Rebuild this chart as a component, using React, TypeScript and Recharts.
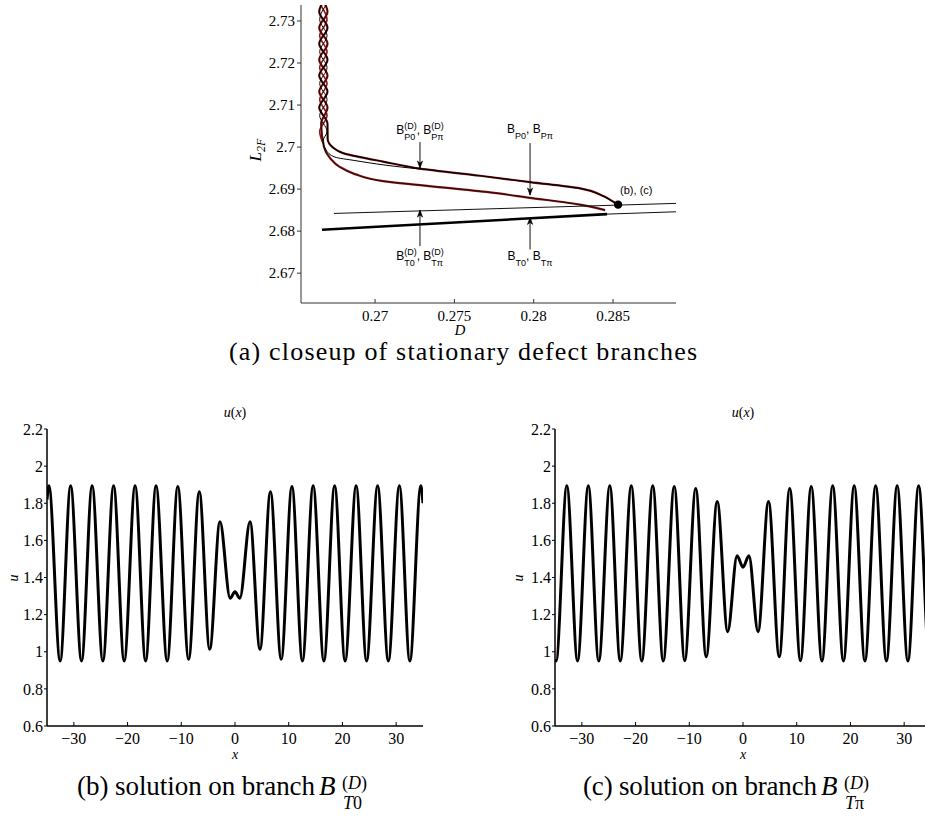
import React from 'react';
import { LineChart, Line, XAxis, YAxis, ReferenceLine, ReferenceDot } from 'recharts';

// ---------------- Panel (a): closeup of stationary defect branches ----------------
const dTicks = [0.27, 0.275, 0.28, 0.285];
const lTicks = [2.67, 2.68, 2.69, 2.7, 2.71, 2.72, 2.73];
const dDomain = [0.26533, 0.28897];
const lDomain = [2.6629, 2.7338];

// braided (snaking) part near D ~ 0.2667, four strands
const braidAB_L = [2.7360, 2.7322, 2.7284, 2.7246, 2.7208, 2.7170, 2.7132, 2.7094, 2.7056];
const strandA_D = [0.26700, 0.26648, 0.26700, 0.26648, 0.26700, 0.26648, 0.26700, 0.26648, 0.26700];
const strandB_D = [0.26648, 0.26700, 0.26648, 0.26700, 0.26648, 0.26700, 0.26648, 0.26700, 0.26660];
const braidCD_L = [2.7341, 2.7303, 2.7265, 2.7227, 2.7189, 2.7151, 2.7113, 2.7075, 2.7037];
const strandC_D = [0.26697, 0.26651, 0.26697, 0.26651, 0.26697, 0.26651, 0.26697, 0.26651, 0.26697];
const strandD_D = [0.26651, 0.26697, 0.26651, 0.26697, 0.26651, 0.26697, 0.26651, 0.26697, 0.26651];
const strandD_endD = [0.26668];
const strandD_endL = [2.7012];

// branches leaving the knee
const upperBranchD = [0.26701, 0.26735, 0.26798, 0.26905, 0.27050, 0.27283, 0.27662, 0.27977, 0.28292, 0.28439, 0.28502, 0.28532];
const upperBranchL = [2.70190, 2.69988, 2.69857, 2.69762, 2.69655, 2.69488, 2.69317, 2.69167, 2.69017, 2.68833, 2.68698, 2.68631];
const lowerBranchD = [0.26678, 0.26716, 0.26779, 0.26873, 0.27050, 0.27283, 0.27725, 0.27977, 0.28292, 0.28450];
const lowerBranchL = [2.70000, 2.69738, 2.69524, 2.69357, 2.69190, 2.69095, 2.68921, 2.68793, 2.68631, 2.68500];
const thinKneeD = [0.26672, 0.26691, 0.26747, 0.26873, 0.27063, 0.27283];
const thinKneeL = [2.70143, 2.69929, 2.69762, 2.69679, 2.69571, 2.69476];

// straight branches
const upperLineD = [0.26741, 0.28897];
const upperLineL = [2.68421, 2.68660];
const thickLineD = [0.26665, 0.28462];
const thickLineL = [2.68031, 2.68405];
const thinTailD = [0.28462, 0.28897];
const thinTailL = [2.68405, 2.68460];

const markerD = 0.28532;
const markerL = 2.6863;

// annotation arrows
const arrowD = [0.27283, 0.27977, 0.27283, 0.27977];
const arrowTailL = [2.70119, 2.70095, 2.67643, 2.67564];
const arrowTipL = [2.69500, 2.68857, 2.68500, 2.68326];
const arrowLabels = [
  [{ base: 'B', sub: 'P0', sup: '(D)' }, { base: 'B', sub: 'Pπ', sup: '(D)' }],
  [{ base: 'B', sub: 'P0' }, { base: 'B', sub: 'Pπ' }],
  [{ base: 'B', sub: 'T0', sup: '(D)' }, { base: 'B', sub: 'Tπ', sup: '(D)' }],
  [{ base: 'B', sub: 'T0' }, { base: 'B', sub: 'Tπ' }],
];
const arrowLabelDy = [-8, -10, 14, 11];

// ---------------- Panels (b), (c): u(x) ----------------
const xTicks = [-30, -20, -10, 0, 10, 20, 30];
const uTicks = [0.6, 0.8, 1, 1.2, 1.4, 1.6, 1.8, 2, 2.2];

const xB = [-35, -34.65, -32.55, -30.6, -28.57, -26.6, -24.6, -22.6, -20.63, -18.6, -16.64, -14.7, -12.62, -10.65, -8.63, -6.65, -4.71, -2.8, -0.9, 0, 0.9, 2.8, 4.65, 6.6, 8.6, 10.6, 12.55, 14.55, 16.55, 18.55, 20.5, 22.55, 24.5, 26.55, 28.55, 30.6, 32.55, 34.6, 35];
const uB = [1.82, 1.894, 0.95, 1.894, 0.95, 1.894, 0.95, 1.894, 0.95, 1.894, 0.95, 1.894, 0.95, 1.89, 0.959, 1.862, 1.013, 1.70, 1.288, 1.323, 1.288, 1.70, 1.013, 1.862, 0.959, 1.89, 0.95, 1.894, 0.95, 1.894, 0.95, 1.894, 0.95, 1.894, 0.95, 1.894, 0.95, 1.894, 1.80];

const xC = [-35, -34.8, -32.8, -30.8, -28.8, -26.85, -24.8, -22.85, -20.8, -18.85, -16.8, -14.85, -12.8, -10.85, -8.8, -6.85, -4.8, -2.85, -1.1, 0, 1.1, 2.8, 4.75, 6.75, 8.7, 10.7, 12.7, 14.7, 16.7, 18.7, 20.7, 22.7, 24.7, 26.7, 28.7, 30.7, 32.7, 34.7, 35];
const uC = [0.96, 0.95, 1.894, 0.95, 1.894, 0.95, 1.894, 0.95, 1.894, 0.95, 1.894, 0.95, 1.89, 0.952, 1.88, 0.973, 1.81, 1.108, 1.517, 1.455, 1.517, 1.108, 1.81, 0.973, 1.88, 0.952, 1.89, 0.95, 1.894, 0.95, 1.894, 0.95, 1.894, 0.95, 1.894, 0.95, 1.894, 0.95, 0.97];

// ---------------- helpers ----------------
const zipDL = (ds: number[], ls: number[]) => ds.map((d, i) => ({ D: d, L: ls[i] }));
const zipXU = (xs: number[], us: number[]) => xs.map((x, i) => ({ x, u: us[i] }));

const seriesA = [...zipDL(strandA_D, braidAB_L), ...zipDL(upperBranchD, upperBranchL)];
const seriesB = [...zipDL(strandB_D, braidAB_L), ...zipDL(lowerBranchD, lowerBranchL)];
const seriesC = [...zipDL(strandC_D, braidCD_L), ...zipDL(thinKneeD, thinKneeL)];
const seriesD = [...zipDL(strandD_D, braidCD_L), ...zipDL(strandD_endD, strandD_endL)];
const upperLine = zipDL(upperLineD, upperLineL);
const thickLine = zipDL(thickLineD, thickLineL);
const thinTail = zipDL(thinTailD, thinTailL);
const solB = zipXU(xB, uB);
const solC = zipXU(xC, uC);

let ctx: CanvasRenderingContext2D | null = null;
function textW(s: string, size: number) {
  try {
    if (!ctx) ctx = document.createElement('canvas').getContext('2d');
    if (ctx) {
      ctx.font = `${size}px "Liberation Sans"`;
      return ctx.measureText(s).width;
    }
  } catch (e) {}
  return s.length * size * 0.55;
}

type Item = { base: string; sub: string; sup?: string };
function branchLabel(items: Item[], cx: number, baseline: number) {
  const big = 12, small = 9;
  const widths = items.map((it) => textW(it.base, big) + Math.max(textW(it.sub, small), it.sup ? textW(it.sup, small) : 0));
  const comma = textW(', ', big);
  const total = widths.reduce((a, b) => a + b, 0) + comma * (items.length - 1);
  let x = cx - total / 2;
  const els: any[] = [];
  items.forEach((it, i) => {
    const wb = textW(it.base, big);
    els.push(<text key={'b' + i} x={x} y={baseline} fontSize={big}>{it.base}</text>);
    els.push(<text key={'s' + i} x={x + wb} y={baseline + 6} fontSize={small}>{it.sub}</text>);
    if (it.sup) els.push(<text key={'p' + i} x={x + wb} y={baseline - 5} fontSize={small}>{it.sup}</text>);
    x += widths[i];
    if (i < items.length - 1) {
      els.push(<text key={'c' + i} x={x} y={baseline} fontSize={big}>,</text>);
      x += comma;
    }
  });
  return <g fontFamily="'Liberation Sans', Arial, sans-serif" fill="#000">{els}</g>;
}

const fmtMinus = (v: number) => (v < 0 ? '\u2212' + Math.abs(v) : String(v));
const serif = "'Liberation Serif', 'Times New Roman', serif";

const makeXTick = (size: number, fmt: (v: number) => string) => (p: any) => (
  <text x={p.x} y={p.y} dy="0.71em" textAnchor="middle" fontSize={size} fontFamily={serif} fill="#000">
    {fmt(p.payload.value)}
  </text>
);
const makeYTick = (size: number) => (p: any) => (
  <text x={p.x} y={p.y} dy="0.355em" textAnchor="end" fontSize={size} fontFamily={serif} fill="#000">
    {String(p.payload.value)}
  </text>
);

function SolutionPanel({ data, left }: { data: { x: number; u: number }[]; left: number }) {
  const axisStyle = { stroke: '#000', strokeWidth: 1.5 };
  return (
    <div style={{ position: 'absolute', left, top: 400 }}>
      <LineChart width={440} height={360} margin={{ top: 29, right: 17, bottom: 4, left: 0 }}>
        <XAxis dataKey="x" type="number" domain={[-35, 35]} ticks={xTicks} allowDataOverflow interval={0}
          height={30} tickSize={-4} tickMargin={11} axisLine={axisStyle} tickLine={{ stroke: '#000' }}
          tick={makeXTick(16, fmtMinus)} />
        <XAxis xAxisId="top" orientation="top" dataKey="x" type="number" domain={[-35, 35]} ticks={xTicks}
          allowDataOverflow interval={0} height={0} mirror tick={false} tickSize={4}
          axisLine={axisStyle} tickLine={{ stroke: '#000' }} />
        <YAxis type="number" domain={[0.6, 2.2]} ticks={uTicks} allowDataOverflow interval={0} width={47}
          tickSize={3} tickMargin={1} axisLine={axisStyle} tickLine={{ stroke: '#000' }} tick={makeYTick(16)} />
        <YAxis yAxisId="right" orientation="right" type="number" domain={[0.6, 2.2]} ticks={uTicks}
          allowDataOverflow interval={0} width={0} mirror tick={false} tickSize={4}
          axisLine={axisStyle} tickLine={{ stroke: '#000' }} />
        <Line data={data} dataKey="u" type="monotone" stroke="#000" strokeWidth={3} dot={false}
          isAnimationActive={false} />
      </LineChart>
    </div>
  );
}

const RED = '#8a1616';

function Caption({ x, label, bEnd, sub }: { x: number; label: string; bEnd: number; sub: string }) {
  return (
    <g>
      <text x={x} y={795} fontSize={27} textLength={bEnd - x} lengthAdjust="spacing">{label}</text>
      <text x={bEnd + 4} y={795} fontSize={27} fontStyle="italic">B</text>
      <text x={bEnd + 27} y={789} fontSize={18}>(<tspan fontStyle="italic">D</tspan>)</text>
      <text x={bEnd + 28} y={809} fontSize={18}><tspan fontStyle="italic">T</tspan>{sub}</text>
    </g>
  );
}

export default function App() {
  return (
    <div style={{ position: 'fixed', left: 0, top: 0, width: 925, height: 816, overflow: 'hidden', background: '#fff' }}>
      <div style={{ position: 'absolute', left: 220, top: 0 }}>
        <LineChart width={480} height={345} margin={{ top: 5, right: 24, bottom: 14, left: 0 }}>
          <XAxis dataKey="D" type="number" domain={dDomain} ticks={dTicks} allowDataOverflow interval={0}
            height={28} tickSize={-4} tickMargin={11} axisLine={{ stroke: '#333' }} tickLine={{ stroke: '#333' }}
            tick={makeXTick(15, (v) => String(v))} />
          <YAxis type="number" domain={lDomain} ticks={lTicks} allowDataOverflow interval={0} width={81}
            tickSize={4} tickMargin={2} axisLine={{ stroke: '#333' }} tickLine={{ stroke: '#333' }} tick={makeYTick(15)} />
          <Line data={seriesA} dataKey="L" type="monotoneY" stroke={RED} strokeWidth={2.2} dot={false} isAnimationActive={false} />
          <Line data={seriesB} dataKey="L" type="monotoneY" stroke={RED} strokeWidth={2.2} dot={false} isAnimationActive={false} />
          <Line data={seriesD} dataKey="L" type="monotoneY" stroke={RED} strokeWidth={1.6} dot={false} isAnimationActive={false} />
          <Line data={seriesA} dataKey="L" type="monotoneY" stroke="#000" strokeWidth={1.2} dot={false} isAnimationActive={false} />
          <Line data={seriesB} dataKey="L" type="monotoneY" stroke="#000" strokeWidth={0.7} dot={false} isAnimationActive={false} />
          <Line data={seriesC} dataKey="L" type="monotoneY" stroke="#000" strokeWidth={1} dot={false} isAnimationActive={false} />
          <Line data={upperLine} dataKey="L" type="linear" stroke="#111" strokeWidth={1} dot={false} isAnimationActive={false} />
          <Line data={thickLine} dataKey="L" type="linear" stroke="#000" strokeWidth={2.6} dot={false} isAnimationActive={false} />
          <Line data={thinTail} dataKey="L" type="linear" stroke="#111" strokeWidth={1} dot={false} isAnimationActive={false} />
          {arrowD.map((d, i) => (
            <ReferenceLine key={'al' + i} segment={[{ x: d, y: arrowTailL[i] }, { x: d, y: arrowTipL[i] }]}
              stroke="#111" strokeWidth={1} />
          ))}
          {arrowD.map((d, i) => (
            <ReferenceDot key={'ah' + i} x={d} y={arrowTipL[i]} r={1}
              shape={(p: any) => {
                const down = arrowTipL[i] < arrowTailL[i];
                const s = down ? -1 : 1;
                const { cx, cy } = p;
                return <path d={`M${cx},${cy} L${cx - 2.6},${cy + s * 7} L${cx},${cy + s * 5} L${cx + 2.6},${cy + s * 7} Z`} fill="#000" stroke="#000" strokeWidth={0.6} />;
              }} />
          ))}
          {arrowD.map((d, i) => (
            <ReferenceDot key={'lb' + i} x={d} y={arrowTailL[i]} r={1}
              shape={(p: any) => branchLabel(arrowLabels[i], p.cx, p.cy + arrowLabelDy[i])} />
          ))}
          <ReferenceDot x={markerD} y={markerL} r={4}
            shape={(p: any) => (
              <g>
                <circle cx={p.cx} cy={p.cy} r={4.2} fill="#000" />
                <text x={p.cx + 2} y={p.cy - 11} fontSize={11} fontFamily="'Liberation Sans', Arial, sans-serif" fill="#000">(b), (c)</text>
              </g>
            )} />
        </LineChart>
      </div>

      <SolutionPanel data={solB} left={0} />
      <SolutionPanel data={solC} left={508} />

      <svg width={925} height={816} style={{ position: 'absolute', left: 0, top: 0, pointerEvents: 'none' }}>
        <g fontFamily={serif} fill="#000">
          {/* panel (a) axis titles */}
          <text x={0} y={0} transform="translate(261,150) rotate(-90)" textAnchor="middle" fontSize={17} fontStyle="italic">
            L<tspan fontSize={12} dy={4}>2F</tspan>
          </text>
          <text x={460} y={335} textAnchor="middle" fontSize={15} fontStyle="italic">D</text>
          <text x={229} y={360} fontSize={26} textLength={468} lengthAdjust="spacing">(a)  closeup of stationary defect branches</text>

          {/* panel (b) */}
          <text x={235} y={417} textAnchor="middle" fontSize={14}><tspan fontStyle="italic">u</tspan>(<tspan fontStyle="italic">x</tspan>)</text>
          <text x={235} y={759} textAnchor="middle" fontSize={14} fontStyle="italic">x</text>
          <text x={0} y={0} transform="translate(18,578) rotate(-90)" textAnchor="middle" fontSize={14} fontStyle="italic">u</text>
          <Caption x={77} label="(b)  solution on branch" bEnd={315} sub="0" />

          {/* panel (c) */}
          <text x={743} y={417} textAnchor="middle" fontSize={14}><tspan fontStyle="italic">u</tspan>(<tspan fontStyle="italic">x</tspan>)</text>
          <text x={743} y={759} textAnchor="middle" fontSize={14} fontStyle="italic">x</text>
          <text x={0} y={0} transform="translate(523,578) rotate(-90)" textAnchor="middle" fontSize={14} fontStyle="italic">u</text>
          <Caption x={583} label="(c)  solution on branch" bEnd={817} sub="π" />
        </g>
      </svg>
    </div>
  );
}
